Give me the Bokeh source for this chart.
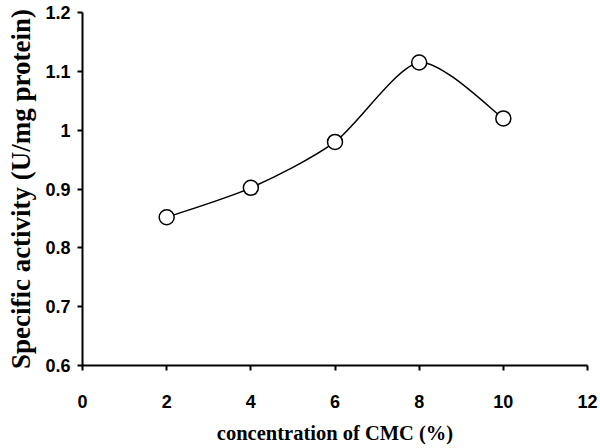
from bokeh.plotting import figure
from bokeh.models import FixedTicker, ColumnDataSource
from bokeh.embed import file_html
from bokeh.resources import INLINE

# data
cmc = [2, 4, 6, 8, 10]
activity = [0.852, 0.902, 0.980, 1.115, 1.020]
x_ticks = [0, 2, 4, 6, 8, 10, 12]
y_ticks = [0.6, 0.7, 0.8, 0.9, 1.0, 1.1, 1.2]
y_tick_labels = ["0.6", "0.7", "0.8", "0.9", "1", "1.1", "1.2"]

p = figure(width=600, height=448, output_backend="svg", toolbar_location=None,
           x_range=(0, 12), y_range=(0.6, 1.2),
           min_border_left=82, min_border_right=13, min_border_top=12, min_border_bottom=83)
p.outline_line_color = None
p.grid.visible = False

# smoothed curve (bezier between data points)
k = 0.13
n = len(cmc)
x0, y0, x1, y1, cx0, cy0, cx1, cy1 = [], [], [], [], [], [], [], []
for i in range(n - 1):
    pm = i - 1 if i > 0 else i
    pp = i + 2 if i + 2 < n else i + 1
    x0.append(cmc[i]); y0.append(activity[i])
    x1.append(cmc[i + 1]); y1.append(activity[i + 1])
    cx0.append(cmc[i] + (cmc[i + 1] - cmc[pm]) * k)
    cy0.append(activity[i] + (activity[i + 1] - activity[pm]) * k)
    cx1.append(cmc[i + 1] - (cmc[pp] - cmc[i]) * k)
    cy1.append(activity[i + 1] - (activity[pp] - activity[i]) * k)
p.bezier(x0=x0, y0=y0, x1=x1, y1=y1, cx0=cx0, cy0=cy0, cx1=cx1, cy1=cy1,
         line_color="black", line_width=1.5)

src = ColumnDataSource(dict(x=cmc, y=activity))
p.scatter("x", "y", source=src, size=15, marker="circle", fill_color="white",
          line_color="black", line_width=1.5)

for ax in (p.xaxis[0], p.yaxis[0]):
    ax.axis_line_width = 2
    ax.major_tick_line_width = 2
    ax.major_tick_out = 5
    ax.major_tick_in = 0
    ax.minor_tick_line_color = None
    ax.major_label_text_font = "Liberation Sans"
    ax.major_label_text_font_style = "bold"
    ax.major_label_text_font_size = "18px"
    ax.major_label_text_color = "black"
    ax.axis_label_text_font = "Liberation Serif"
    ax.axis_label_text_font_style = "bold"
    ax.axis_label_text_color = "black"

p.xaxis.axis_label_text_font_size = "20.5px"
p.yaxis.axis_label_text_font_size = "27px"
p.xaxis.ticker = FixedTicker(ticks=x_ticks)
p.yaxis.ticker = FixedTicker(ticks=y_ticks)
p.yaxis.major_label_overrides = {t: l for t, l in zip(y_ticks, y_tick_labels)}
p.xaxis.axis_label = "concentration of CMC (%)"
p.yaxis.axis_label = "Specific activity (U/mg protein)"
p.xaxis.major_label_standoff = 24
p.xaxis.axis_label_standoff = 11
p.yaxis.major_label_standoff = 7
p.yaxis.axis_label_standoff = 6

open("out.html", "w").write(file_html(p, INLINE))
